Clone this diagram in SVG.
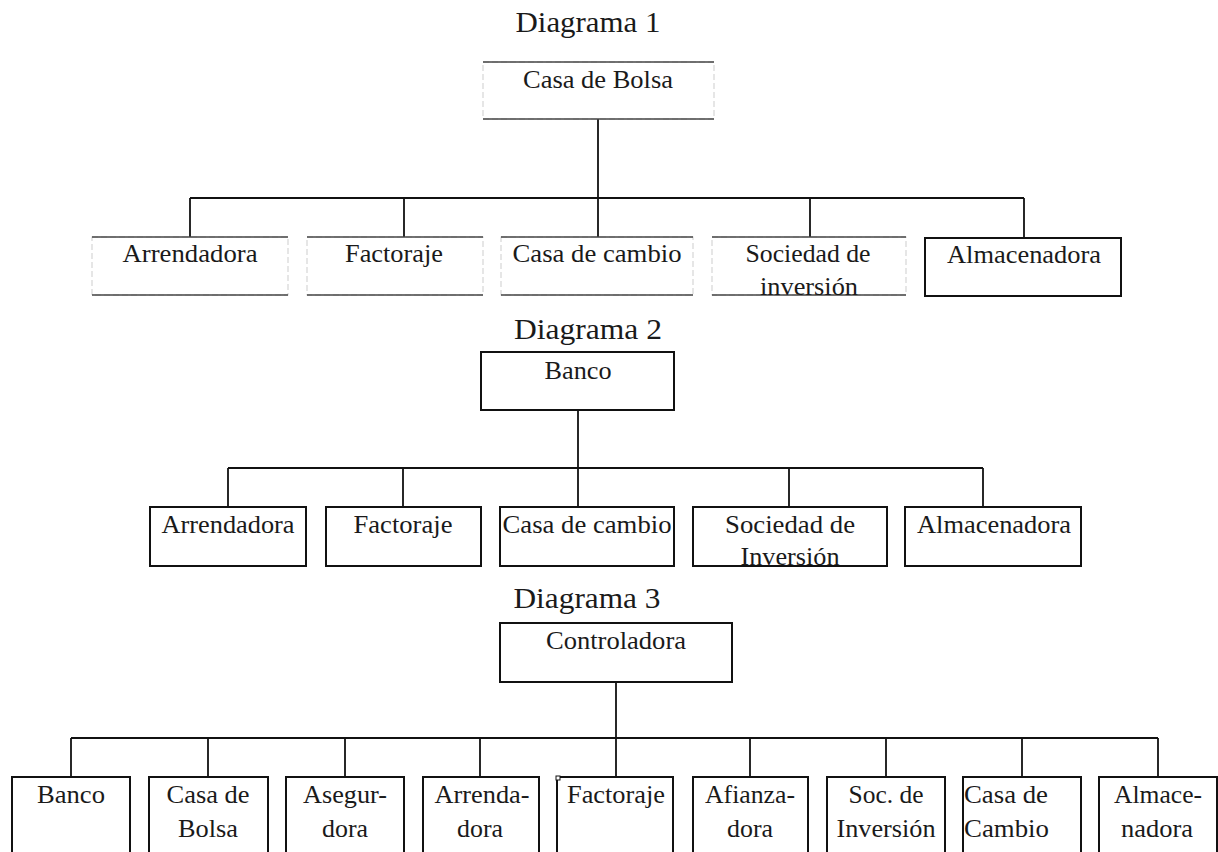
<svg xmlns="http://www.w3.org/2000/svg" width="1218" height="852" viewBox="0 0 1218 852">
<style>
  text { font-family: "Liberation Serif", "Times New Roman", serif; fill: #1a1a1a; text-anchor: middle; }
  .title { font-size: 30px; }
  .lbl { font-size: 25px; }
  .box { fill: none; stroke: #111; stroke-width: 2; }
  .faint { fill: none; stroke: #d6d6d6; stroke-width: 1.2; stroke-dasharray: 6 3; }
  .edge { stroke: #444; stroke-width: 1.6; }
  .conn line { stroke: #111; stroke-width: 1.8; }
</style>
<rect width="1218" height="852" fill="#ffffff"/>

<!-- Titles -->
<text class="title" x="588" y="32" textLength="145" lengthAdjust="spacingAndGlyphs">Diagrama 1</text>
<text class="title" x="588" y="339" textLength="148" lengthAdjust="spacingAndGlyphs">Diagrama 2</text>
<text class="title" x="587" y="608" textLength="147" lengthAdjust="spacingAndGlyphs">Diagrama 3</text>

<!-- Connectors -->
<g class="conn" id="connectors">
  <!-- Diagram 1 -->
  <line x1="598" y1="119" x2="598" y2="198"/>
  <line x1="190" y1="198" x2="1024" y2="198"/>
  <line x1="190" y1="198" x2="190" y2="237"/>
  <line x1="404" y1="198" x2="404" y2="237"/>
  <line x1="598" y1="198" x2="598" y2="237"/>
  <line x1="810" y1="198" x2="810" y2="237"/>
  <line x1="1024" y1="198" x2="1024" y2="238"/>
  <!-- Diagram 2 -->
  <line x1="578" y1="410" x2="578" y2="468"/>
  <line x1="228" y1="468" x2="983" y2="468"/>
  <line x1="228" y1="468" x2="228" y2="507"/>
  <line x1="403" y1="468" x2="403" y2="507"/>
  <line x1="578" y1="468" x2="578" y2="507"/>
  <line x1="789" y1="468" x2="789" y2="507"/>
  <line x1="983" y1="468" x2="983" y2="507"/>
  <!-- Diagram 3 -->
  <line x1="616" y1="682" x2="616" y2="738"/>
  <line x1="71" y1="738" x2="1158" y2="738"/>
  <line x1="71" y1="738" x2="71" y2="777"/>
  <line x1="208" y1="738" x2="208" y2="777"/>
  <line x1="345" y1="738" x2="345" y2="777"/>
  <line x1="480" y1="738" x2="480" y2="777"/>
  <line x1="616" y1="738" x2="616" y2="777"/>
  <line x1="750" y1="738" x2="750" y2="777"/>
  <line x1="886" y1="738" x2="886" y2="777"/>
  <line x1="1022" y1="738" x2="1022" y2="777"/>
  <line x1="1158" y1="738" x2="1158" y2="777"/>
</g>

<!-- Diagram 1 nodes -->
<g id="d1-casa-de-bolsa">
  <rect class="faint" x="483" y="62" width="231" height="57"/>
  <line class="edge" x1="483" y1="62" x2="714" y2="62"/>
  <line class="edge" x1="483" y1="119" x2="714" y2="119"/>
  <text class="lbl" x="598" y="88" textLength="150" lengthAdjust="spacingAndGlyphs">Casa de Bolsa</text>
</g>
<g id="d1-arrendadora">
  <rect class="faint" x="92" y="237" width="196" height="58"/>
  <line class="edge" x1="92" y1="237" x2="288" y2="237"/>
  <line class="edge" x1="92" y1="295" x2="288" y2="295"/>
  <text class="lbl" x="190" y="262" textLength="135" lengthAdjust="spacingAndGlyphs">Arrendadora</text>
</g>
<g id="d1-factoraje">
  <rect class="faint" x="307" y="237" width="176" height="58"/>
  <line class="edge" x1="307" y1="237" x2="483" y2="237"/>
  <line class="edge" x1="307" y1="295" x2="483" y2="295"/>
  <text class="lbl" x="394" y="262" textLength="98" lengthAdjust="spacingAndGlyphs">Factoraje</text>
</g>
<g id="d1-casa-de-cambio">
  <rect class="faint" x="501" y="237" width="192" height="58"/>
  <line class="edge" x1="501" y1="237" x2="693" y2="237"/>
  <line class="edge" x1="501" y1="295" x2="693" y2="295"/>
  <text class="lbl" x="597" y="262" textLength="169" lengthAdjust="spacingAndGlyphs">Casa de cambio</text>
</g>
<g id="d1-sociedad-de-inversion">
  <rect class="faint" x="712" y="237" width="194" height="58"/>
  <line class="edge" x1="712" y1="237" x2="906" y2="237"/>
  <line class="edge" x1="712" y1="295" x2="906" y2="295"/>
  <text class="lbl" x="808" y="262" textLength="125" lengthAdjust="spacingAndGlyphs">Sociedad de</text>
  <text class="lbl" x="809" y="295" textLength="98" lengthAdjust="spacingAndGlyphs">inversión</text>
</g>
<g id="d1-almacenadora">
  <rect class="box" x="925" y="238" width="196" height="58"/>
  <text class="lbl" x="1024" y="263" textLength="154" lengthAdjust="spacingAndGlyphs">Almacenadora</text>
</g>

<!-- Diagram 2 nodes -->
<g id="d2-banco">
  <rect class="box" x="481" y="352" width="193" height="58"/>
  <text class="lbl" x="578" y="379" textLength="67" lengthAdjust="spacingAndGlyphs">Banco</text>
</g>
<g id="d2-arrendadora">
  <rect class="box" x="150" y="507" width="156" height="59"/>
  <text class="lbl" x="228" y="533" textLength="133" lengthAdjust="spacingAndGlyphs">Arrendadora</text>
</g>
<g id="d2-factoraje">
  <rect class="box" x="326" y="507" width="155" height="59"/>
  <text class="lbl" x="403" y="533" textLength="99" lengthAdjust="spacingAndGlyphs">Factoraje</text>
</g>
<g id="d2-casa-de-cambio">
  <rect class="box" x="500" y="507" width="174" height="59"/>
  <text class="lbl" x="587" y="533" textLength="169" lengthAdjust="spacingAndGlyphs">Casa de cambio</text>
</g>
<g id="d2-sociedad-de-inversion">
  <rect class="box" x="693" y="507" width="194" height="59"/>
  <text class="lbl" x="790" y="533" textLength="130" lengthAdjust="spacingAndGlyphs">Sociedad de</text>
  <text class="lbl" x="790" y="565" textLength="99" lengthAdjust="spacingAndGlyphs">Inversión</text>
</g>
<g id="d2-almacenadora">
  <rect class="box" x="905" y="507" width="176" height="59"/>
  <text class="lbl" x="994" y="533" textLength="154" lengthAdjust="spacingAndGlyphs">Almacenadora</text>
</g>

<!-- Diagram 3 nodes -->
<g id="d3-controladora">
  <rect class="box" x="500" y="623" width="232" height="59"/>
  <text class="lbl" x="616" y="649" textLength="140" lengthAdjust="spacingAndGlyphs">Controladora</text>
</g>
<g id="d3-banco">
  <rect class="box" x="12" y="777" width="118" height="90"/>
  <text class="lbl" x="71" y="803" textLength="68" lengthAdjust="spacingAndGlyphs">Banco</text>
</g>
<g id="d3-casa-de-bolsa">
  <rect class="box" x="149" y="777" width="119" height="90"/>
  <text class="lbl" x="208" y="803" textLength="83" lengthAdjust="spacingAndGlyphs">Casa de</text>
  <text class="lbl" x="208" y="837" textLength="60" lengthAdjust="spacingAndGlyphs">Bolsa</text>
</g>
<g id="d3-aseguradora">
  <rect class="box" x="286" y="777" width="118" height="90"/>
  <text class="lbl" x="345" y="803" textLength="84" lengthAdjust="spacingAndGlyphs">Asegur-</text>
  <text class="lbl" x="345" y="837" textLength="46" lengthAdjust="spacingAndGlyphs">dora</text>
</g>
<g id="d3-arrendadora">
  <rect class="box" x="423" y="777" width="116" height="90"/>
  <text class="lbl" x="482" y="803" textLength="95" lengthAdjust="spacingAndGlyphs">Arrenda-</text>
  <text class="lbl" x="480" y="837" textLength="46" lengthAdjust="spacingAndGlyphs">dora</text>
</g>
<g id="d3-factoraje">
  <rect class="box" x="557" y="777" width="116" height="90"/>
  <rect x="556" y="776" width="4" height="4" fill="#fff" stroke="#111" stroke-width="1"/>
  <text class="lbl" x="616" y="803" textLength="98" lengthAdjust="spacingAndGlyphs">Factoraje</text>
</g>
<g id="d3-afianzadora">
  <rect class="box" x="693" y="777" width="115" height="90"/>
  <text class="lbl" x="750" y="803" textLength="90" lengthAdjust="spacingAndGlyphs">Afianza-</text>
  <text class="lbl" x="750" y="837" textLength="46" lengthAdjust="spacingAndGlyphs">dora</text>
</g>
<g id="d3-soc-de-inversion">
  <rect class="box" x="827" y="777" width="118" height="90"/>
  <text class="lbl" x="886" y="803" textLength="75" lengthAdjust="spacingAndGlyphs">Soc. de</text>
  <text class="lbl" x="886" y="837" textLength="99" lengthAdjust="spacingAndGlyphs">Inversión</text>
</g>
<g id="d3-casa-de-cambio">
  <rect class="box" x="963" y="777" width="118" height="90"/>
  <text class="lbl" x="1006" y="803" textLength="84" lengthAdjust="spacingAndGlyphs">Casa de</text>
  <text class="lbl" x="1006.5" y="837" textLength="85" lengthAdjust="spacingAndGlyphs">Cambio</text>
</g>
<g id="d3-almacenadora">
  <rect class="box" x="1099" y="777" width="118" height="90"/>
  <text class="lbl" x="1158" y="803" textLength="88" lengthAdjust="spacingAndGlyphs">Almace-</text>
  <text class="lbl" x="1157" y="837" textLength="72" lengthAdjust="spacingAndGlyphs">nadora</text>
</g>
</svg>
